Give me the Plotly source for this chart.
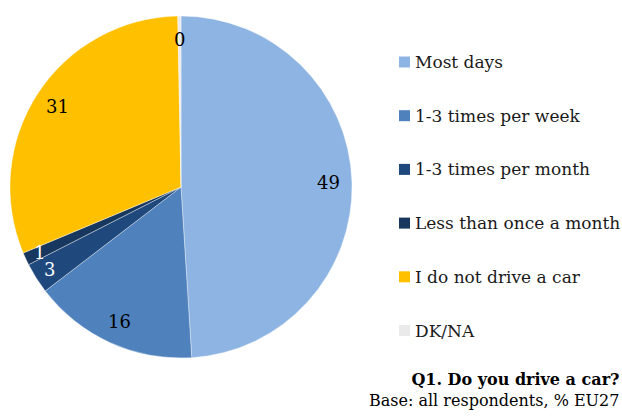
import math
import plotly.graph_objects as go

# Survey answers, % of all respondents (EU27)
categories = ["Most days", "1-3 times per week", "1-3 times per month",
              "Less than once a month", "I do not drive a car", "DK/NA"]
shares = [49.0, 15.6, 2.9, 1.2, 31.0, 0.3]
colors = ["#8DB4E2", "#4F81BD", "#1F497D", "#17375E", "#FFC000", "#EAEAEA"]
label_colors = ["#000000", "#000000", "#FFFFFF", "#FFFFFF", "#000000", "#000000"]

title_text = "<b>Q1. Do you drive a car?</b>"
base_text = "Base: all respondents, % EU27"

W, H = 622, 416
FONT = "DejaVu Serif"

# pie geometry in pixels
cx, cy, R = 181, 187, 171
dom_x = [(cx - R) / W, (cx + R) / W]
dom_y = [1 - (cy + R) / H, 1 - (cy - R) / H]

fig = go.Figure()
fig.add_trace(go.Pie(
    labels=categories,
    values=shares,
    sort=False,
    direction="clockwise",
    rotation=0,
    marker=dict(colors=colors, line=dict(color="rgba(255,255,255,0.55)", width=0.7)),
    textinfo="none",
    hoverinfo="label+value",
    showlegend=False,
    domain=dict(x=dom_x, y=dom_y),
))

annotations = []
shapes = []

# value labels placed near the rim of each slice
total = sum(shares)
start = 0.0
for val, col in zip(shares, label_colors):
    span = val / total * 360.0
    mid = math.radians(start + span / 2)
    frac = 0.91 if 0.5 < val < 5 else 0.865
    px = cx + R * frac * math.sin(mid)
    py = cy - R * frac * math.cos(mid)
    annotations.append(dict(
        x=px / W, y=1 - py / H, xref="paper", yref="paper",
        text=f"{val:.0f}", showarrow=False,
        font=dict(family=FONT, size=18, color=col),
        xanchor="center", yanchor="middle",
    ))
    start += span

# legend drawn as squares with text beside them
leg_x0 = 399
leg_y0 = 62
leg_gap = 53.7
sq = 11
for i, (name, col) in enumerate(zip(categories, colors)):
    yc = leg_y0 + i * leg_gap
    shapes.append(dict(
        type="rect", xref="paper", yref="paper",
        x0=leg_x0 / W, x1=(leg_x0 + sq) / W,
        y0=1 - (yc + sq / 2) / H, y1=1 - (yc - sq / 2) / H,
        fillcolor=col, line=dict(width=0),
    ))
    annotations.append(dict(
        x=(leg_x0 + sq + 3) / W, y=1 - yc / H, xref="paper", yref="paper",
        text=name, showarrow=False, xanchor="left", yanchor="middle",
        font=dict(family=FONT, size=17, color="#1a1a1a"),
    ))

annotations.append(dict(
    x=621 / W, y=1 - 389.5 / H, xref="paper", yref="paper",
    text=title_text + "<br>" + base_text, showarrow=False,
    xanchor="right", yanchor="middle", align="right",
    font=dict(family=FONT, size=16, color="#000000"),
))

fig.update_layout(
    width=W, height=H,
    margin=dict(l=0, r=0, t=0, b=0),
    paper_bgcolor="white",
    plot_bgcolor="white",
    annotations=annotations,
    shapes=shapes,
)

fig.write_html("out.html")
